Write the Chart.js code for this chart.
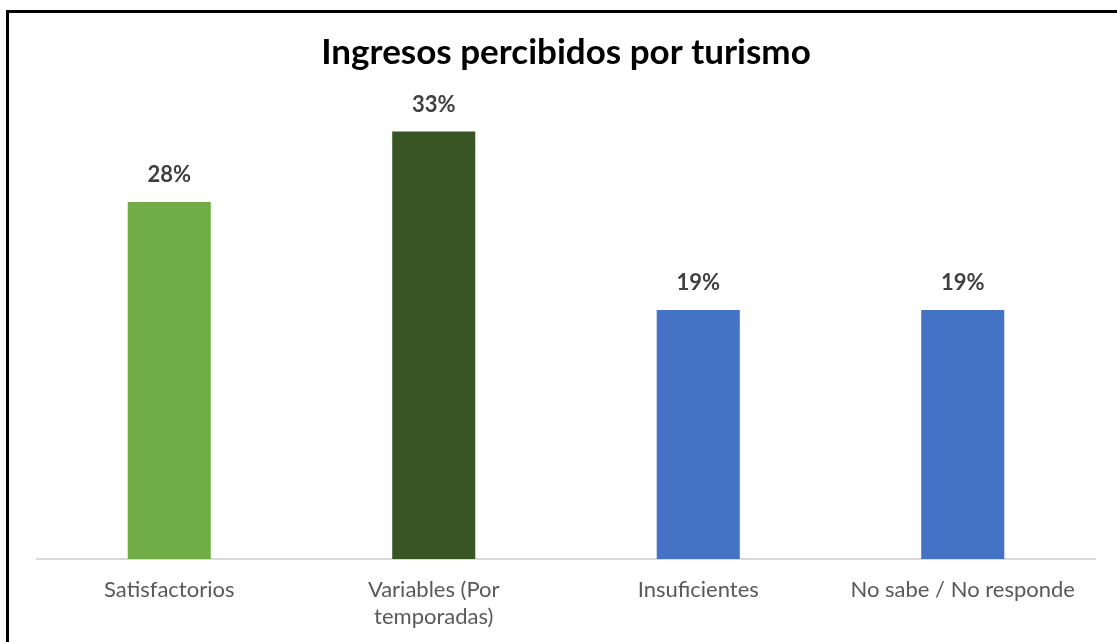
<!DOCTYPE html>
<html>
<head>
<meta charset="utf-8">
<script src="https://cdn.jsdelivr.net/npm/chart.js@4/dist/chart.umd.min.js"></script>
<style>
  html, body { margin: 0; padding: 0; background: #fff; }
  #wrap { position: absolute; left: 0; top: 0; width: 1117px; height: 642px; }
  #frame { position: absolute; left: 6px; top: 10px; right: 0; bottom: 0;
           border-left: 3px solid #000; border-top: 3px solid #000; pointer-events: none; }
</style>
</head>
<body>
<div id="wrap">
  <canvas id="chart" width="1117" height="642"></canvas>
  <div id="frame"></div>
</div>
<script>
'use strict';

// ─── data ───
const categories = ['Satisfactorios', ['Variables (Por', 'temporadas)'], 'Insuficientes', 'No sabe / No responde'];
const values = [27.8, 33.3, 19.4, 19.4];
const valueLabels = ['28%', '33%', '19%', '19%'];
const barColors = ['#70ad47', '#375623', '#4472c4', '#4472c4'];

const FONT = "Lato, 'Open Sans', 'Liberation Sans', sans-serif";

// draws the "28%" labels above each bar
const topLabels = {
  id: 'topLabels',
  afterDatasetsDraw(chart) {
    const ctx = chart.ctx;
    const meta = chart.getDatasetMeta(0);
    ctx.save();
    ctx.font = 'bold 22px ' + FONT;
    ctx.fillStyle = '#404040';
    ctx.textAlign = 'center';
    ctx.textBaseline = 'middle';
    meta.data.forEach((bar, i) => {
      ctx.fillText(valueLabels[i], bar.x, bar.y - 27);
    });
    ctx.restore();
  },
};

new Chart(document.getElementById('chart'), {
  type: 'bar',
  data: {
    labels: categories,
    datasets: [{
      data: values,
      backgroundColor: barColors,
      borderWidth: 0,
      categoryPercentage: 1,
      barPercentage: 0.314,
    }],
  },
  options: {
    responsive: false,
    animation: false,
    layout: { padding: { left: 37, right: 22, top: 10, bottom: 2 } },
    plugins: {
      legend: { display: false },
      tooltip: { enabled: false },
      title: {
        display: true,
        text: 'Ingresos percibidos por turismo',
        color: '#000',
        font: { family: FONT, size: 35, weight: 'bold', lineHeight: 1.2 },
        padding: { top: 22, bottom: 10 },
      },
    },
    scales: {
      x: {
        grid: { display: false },
        border: { color: '#d9d9d9', width: 2 },
        ticks: { color: '#595959', font: { family: FONT, size: 22, lineHeight: 1.25 }, padding: 9, maxRotation: 0 },
      },
      y: {
        display: false,
        min: 0,
        max: 37,
      },
    },
  },
  plugins: [topLabels],
});
</script>
</body>
</html>
